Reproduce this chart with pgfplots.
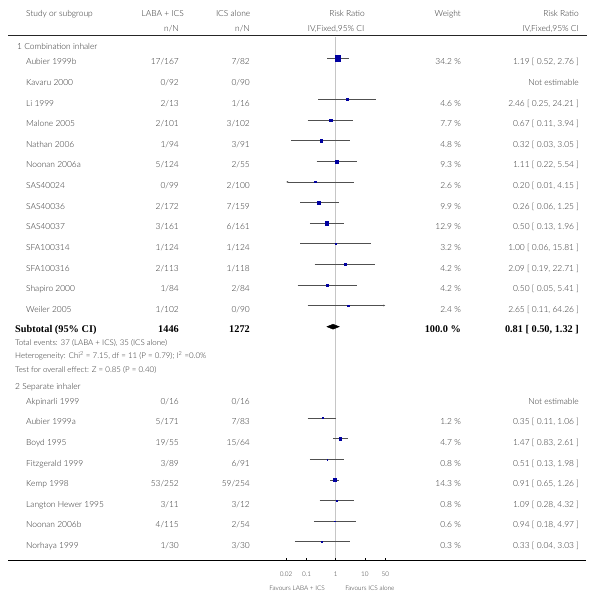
\documentclass[border=0pt]{standalone}
\usepackage{pgfplots}
\pgfplotsset{compat=1.18}
\usepackage{pgfplotstable}
\usepackage{fontspec}
\setmainfont{Lato Light}
\newfontfamily\serifb{Liberation Serif}
\usetikzlibrary{arrows.meta}
\definecolor{mk}{RGB}{0,0,160}
\definecolor{txt}{RGB}{45,45,45}
\definecolor{ciline}{RGB}{80,80,80}
\tikzset{tx/.style={font=\fontsize{8.4}{9}\selectfont, text=txt, inner sep=0pt},
         ft/.style={font=\fontsize{7.9}{8.5}\selectfont, text=txt, inner sep=0pt},
         sm/.style={font=\fontsize{6.4}{7}\selectfont, text=txt, inner sep=0pt},
         bd/.style={font=\serifb\bfseries\fontsize{10.3}{12}\selectfont, text=black, inner sep=0pt}}

% CI segments (lower, upper), separated by nan rows
\pgfplotstableread{
x y
0.52 58.3
2.76 58.3
nan nan
0.25 99.5
24.21 99.5
nan nan
0.11 120.1
3.94 120.1
nan nan
0.03 140.7
3.05 140.7
nan nan
0.22 161.3
5.54 161.3
nan nan
0.06 202.5
1.25 202.5
nan nan
0.13 223.1
1.96 223.1
nan nan
0.06 243.7
15.81 243.7
nan nan
0.19 264.3
22.71 264.3
nan nan
0.05 284.9
5.41 284.9
nan nan
0.11 418.1
1.06 418.1
nan nan
0.83 438.7
2.61 438.7
nan nan
0.13 459.3
1.98 459.3
nan nan
0.65 479.9
1.26 479.9
nan nan
0.28 500.5
4.32 500.5
nan nan
0.18 521.1
4.97 521.1
nan nan
0.04 541.7
3.03 541.7
}\ci

% point estimates with weights
\pgfplotstableread{
rr y w
1.19 58.3 34.2
2.46 99.5 4.6
0.67 120.1 7.7
0.32 140.7 4.8
1.11 161.3 9.3
0.20 181.9 2.6
0.26 202.5 9.9
0.50 223.1 12.9
1.00 243.7 3.2
2.09 264.3 4.2
0.50 284.9 4.2
2.65 305.5 2.4
0.35 418.1 1.2
1.47 438.7 4.7
0.51 459.3 0.8
0.91 479.9 14.3
1.09 500.5 0.8
0.94 521.1 0.6
0.33 541.7 0.3
}\pts

\newcommand\st[6]{%
\node[tx,anchor=base west] at (axis cs:26,#1) {#2};
\node[tx,anchor=base east] at (axis cs:179,#1) {#3};
\node[tx,anchor=base east] at (axis cs:250,#1) {#4};
\node[tx,anchor=base east] at (axis cs:461,#1) {#5};
\node[tx,anchor=base east] at (axis cs:579,#1) {#6};}

\begin{document}
\begin{tikzpicture}
\begin{axis}[at={(0,0)}, anchor=south west, width=598pt, height=601pt, scale only axis,
  xmin=0, xmax=598, ymin=0, ymax=601, y dir=reverse, hide axis, clip=false]
\path (axis cs:0,0) rectangle (axis cs:598,601);
% header
\node[tx,anchor=base west] at (axis cs:26,17) {Study or subgroup};
\node[tx,anchor=base east] at (axis cs:184,17) {LABA + ICS};
\node[tx,anchor=base east] at (axis cs:179,32) {n/N};
\node[tx,anchor=base east] at (axis cs:250.5,17) {ICS alone};
\node[tx,anchor=base east] at (axis cs:250,32) {n/N};
\node[tx,anchor=base east] at (axis cs:365,17) {Risk Ratio};
\node[tx,anchor=base east] at (axis cs:364.5,32) {IV,Fixed,95\% CI};
\node[tx,anchor=base east] at (axis cs:461,17) {Weight};
\node[tx,anchor=base east] at (axis cs:579,17) {Risk Ratio};
\node[tx,anchor=base east] at (axis cs:579,32) {IV,Fixed,95\% CI};
\draw[line width=1.3pt, black!85] (axis cs:8,35.3) -- (axis cs:587,35.3);
% section 1
\node[tx,anchor=base west] at (axis cs:17,50) {1 Combination inhaler};
\st{65.0}{Aubier 1999b}{17/167}{7/82}{34.2 \%}{1.19 [ 0.52, 2.76 ]}
\st{85.6}{Kavaru 2000}{0/92}{0/90}{}{Not estimable}
\st{106.2}{Li 1999}{2/13}{1/16}{4.6 \%}{2.46 [ 0.25, 24.21 ]}
\st{126.8}{Malone 2005}{2/101}{3/102}{7.7 \%}{0.67 [ 0.11, 3.94 ]}
\st{147.4}{Nathan 2006}{1/94}{3/91}{4.8 \%}{0.32 [ 0.03, 3.05 ]}
\st{168.0}{Noonan 2006a}{5/124}{2/55}{9.3 \%}{1.11 [ 0.22, 5.54 ]}
\st{188.6}{SAS40024}{0/99}{2/100}{2.6 \%}{0.20 [ 0.01, 4.15 ]}
\st{209.2}{SAS40036}{2/172}{7/159}{9.9 \%}{0.26 [ 0.06, 1.25 ]}
\st{229.8}{SAS40037}{3/161}{6/161}{12.9 \%}{0.50 [ 0.13, 1.96 ]}
\st{250.4}{SFA100314}{1/124}{1/124}{3.2 \%}{1.00 [ 0.06, 15.81 ]}
\st{271.0}{SFA100316}{2/113}{1/118}{4.2 \%}{2.09 [ 0.19, 22.71 ]}
\st{291.6}{Shapiro 2000}{1/84}{2/84}{4.2 \%}{0.50 [ 0.05, 5.41 ]}
\st{312.2}{Weiler 2005}{1/102}{0/90}{2.4 \%}{2.65 [ 0.11, 64.26 ]}
% subtotal
\node[bd,anchor=base west] at (axis cs:15,332) {Subtotal (95\% CI)};
\node[bd,anchor=base east] at (axis cs:179,332) {1446};
\node[bd,anchor=base east] at (axis cs:250,332) {1272};
\node[bd,anchor=base east] at (axis cs:461,332) {100.0 \%};
\node[bd,anchor=base east] at (axis cs:579,332) {0.81 [ 0.50, 1.32 ]};
\node[ft,anchor=base west] at (axis cs:15,345) {Total events: 37 (LABA + ICS), 35 (ICS alone)};
\node[ft,anchor=base west] at (axis cs:15,358.5) {Heterogeneity: Chi\textsuperscript{2} = 7.15, df = 11 (P = 0.79); I\textsuperscript{2} =0.0\%};
\node[ft,anchor=base west] at (axis cs:15,372) {Test for overall effect: Z = 0.85 (P = 0.40)};
% section 2
\node[tx,anchor=base west] at (axis cs:15,389) {2 Separate inhaler};
\st{404.2}{Akpinarli 1999}{0/16}{0/16}{}{Not estimable}
\st{424.8}{Aubier 1999a}{5/171}{7/83}{1.2 \%}{0.35 [ 0.11, 1.06 ]}
\st{445.4}{Boyd 1995}{19/55}{15/64}{4.7 \%}{1.47 [ 0.83, 2.61 ]}
\st{466.0}{Fitzgerald 1999}{3/89}{6/91}{0.8 \%}{0.51 [ 0.13, 1.98 ]}
\st{486.6}{Kemp 1998}{53/252}{59/254}{14.3 \%}{0.91 [ 0.65, 1.26 ]}
\st{507.2}{Langton Hewer 1995}{3/11}{3/12}{0.8 \%}{1.09 [ 0.28, 4.32 ]}
\st{527.8}{Noonan 2006b}{4/115}{2/54}{0.6 \%}{0.94 [ 0.18, 4.97 ]}
\st{548.4}{Norhaya 1999}{1/30}{3/30}{0.3 \%}{0.33 [ 0.04, 3.03 ]}
\draw[line width=1pt, black] (axis cs:8,560.5) -- (axis cs:586,560.5);
\end{axis}

\begin{axis}[at={(0,0)}, anchor=south west, width=598pt, height=601pt, scale only axis,
  xmode=log, xmin=3.187e-12, xmax=9.614e8, ymin=0, ymax=601, y dir=reverse,
  hide axis, clip=false, unbounded coords=jump]
% line of no effect
\addplot[gray!45, line width=0.7pt, mark=none] coordinates {(1,37) (1,560)};
% confidence intervals
\addplot[ciline, line width=0.5pt, mark=none] table[x=x,y=y] {\ci};
\addplot[ciline, line width=0.5pt, mark=none, {Latex[length=2pt,width=2pt]}-] coordinates {(0.02,181.9) (4.15,181.9)};
\addplot[ciline, line width=0.5pt, mark=none, -{Latex[length=2pt,width=2pt]}] coordinates {(0.11,305.5) (50,305.5)};
% point estimates
\addplot[scatter, only marks, mark=square*, scatter/use mapped color={draw=mk, fill=mk},
  visualization depends on={sqrt(\thisrow{w})*0.47 \as \ms},
  scatter/@pre marker code/.append style={/tikz/mark size=\ms, /tikz/line width=0pt}]
  table[x=rr, y=y] {\pts};
% subtotal diamond
\addplot[black, fill=black, mark=none] coordinates {(0.50,326.7) (0.81,324.2) (1.32,326.7) (0.81,329.2) (0.50,326.7)} -- cycle;
% scale ticks
\addplot[black, line width=0.5pt, mark=none] coordinates {(0.02,560.5) (0.02,557.5) (nan,nan) (0.1,560.5) (0.1,557.5) (nan,nan) (1,560.5) (1,557.5) (nan,nan) (10,560.5) (10,557.5) (nan,nan) (50,560.5) (50,557.5)};
\node[sm,anchor=base] at (axis cs:0.02,576) {0.02};
\node[sm,anchor=base] at (axis cs:0.1,576) {0.1};
\node[sm,anchor=base] at (axis cs:1,576) {1};
\node[sm,anchor=base] at (axis cs:10,576) {10};
\node[sm,anchor=base] at (axis cs:50,576) {50};
\node[sm,anchor=base east] at (axis cs:0.43,590.5) {Favours LABA + ICS};
\node[sm,anchor=base west] at (axis cs:2.1,590.5) {Favours ICS alone};
\end{axis}
\end{tikzpicture}
\end{document}
